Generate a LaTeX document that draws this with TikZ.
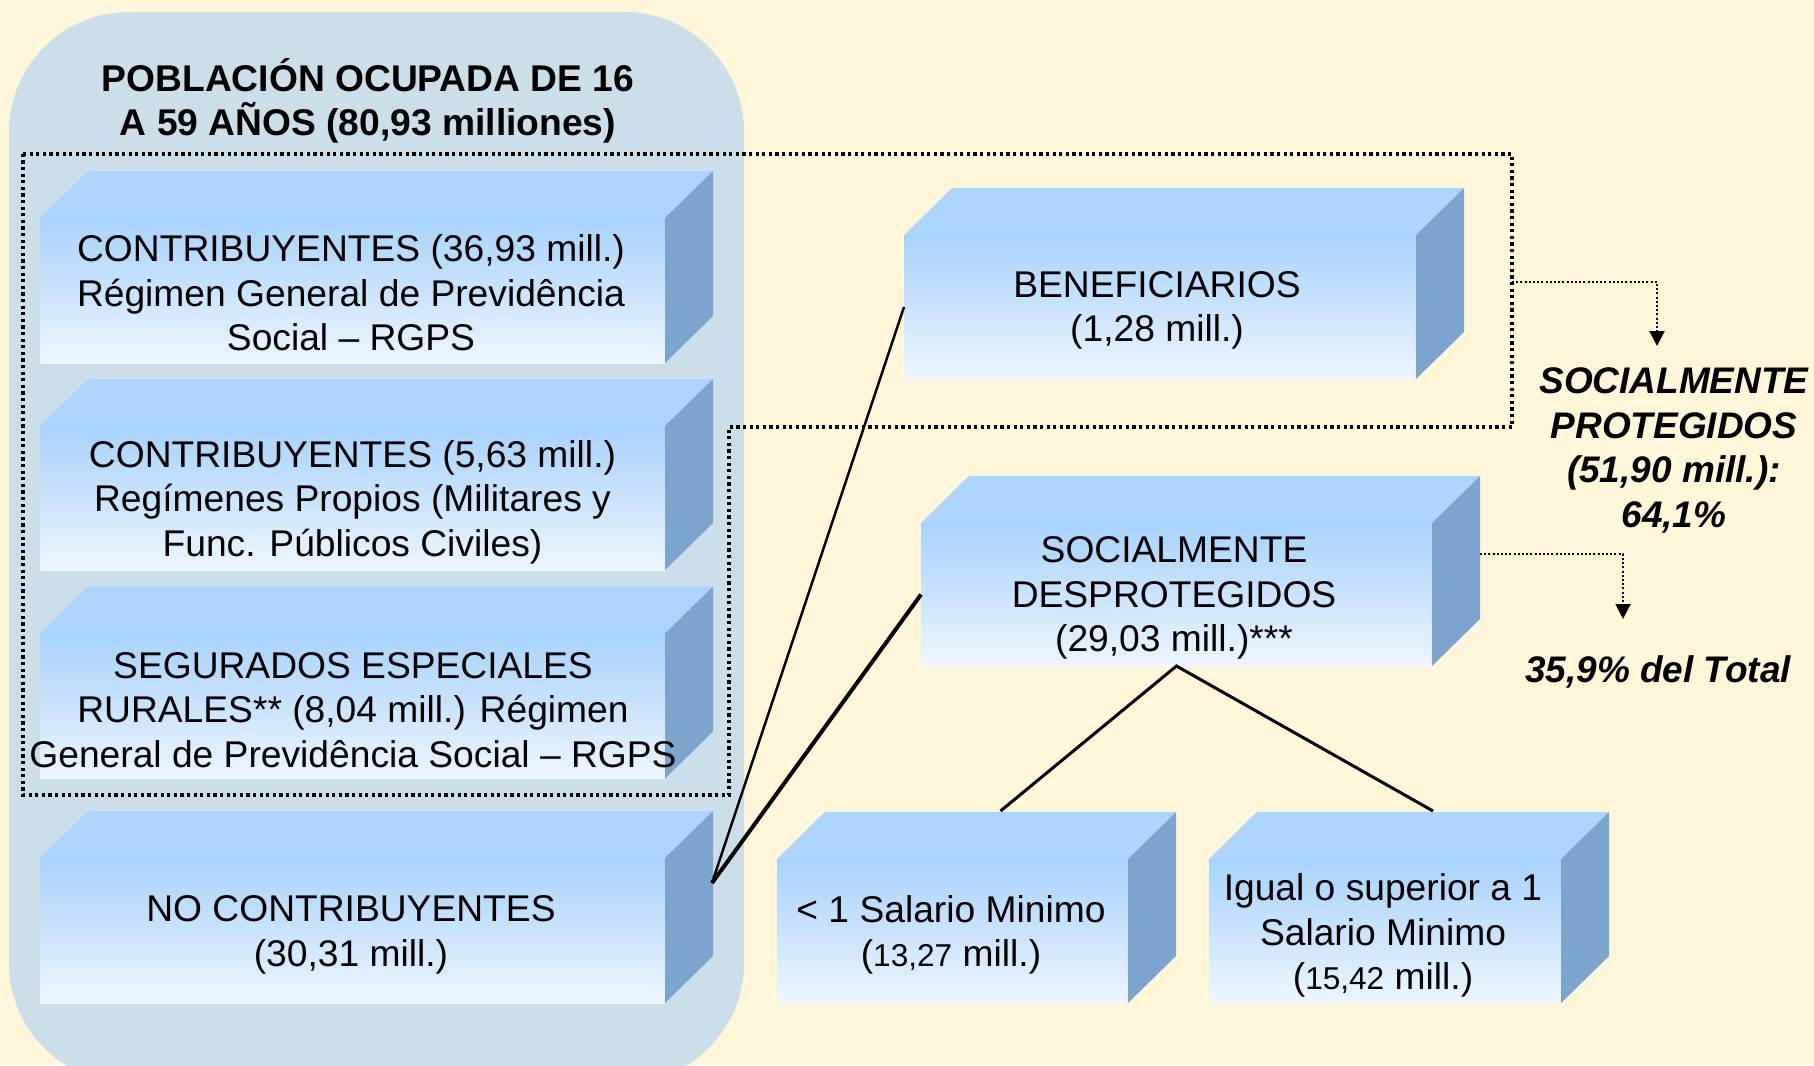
\documentclass[tikz,border=0pt]{standalone}
\usepackage{fontspec}
\setmainfont{Liberation Sans}
\usetikzlibrary{calc,arrows.meta}
\definecolor{bgcream}{HTML}{FFF5D8}
\definecolor{panelblue}{HTML}{CCDEEA}
\definecolor{facetop}{HTML}{A8D3FC}
\definecolor{facemid}{HTML}{CAE3FD}
\definecolor{facebot}{HTML}{EEF6FF}
\definecolor{topface}{HTML}{ABD5FC}
\definecolor{sideface}{HTML}{7BA5CD}
\tikzset{
  front/.style={inner sep=0pt, outer sep=0pt, draw=none, top color=facetop, bottom color=facebot, middle color=facemid},
  boxtext/.style={inner sep=0pt, align=center, font=\fontsize{18.6}{22.25}\selectfont},
  titletext/.style={inner sep=0pt, align=center, font=\fontsize{18.6}{22}\selectfont\bfseries},
  sidetext/.style={inner sep=0pt, align=center, font=\fontsize{18.5}{22.3}\selectfont\bfseries\itshape},
  thinline/.style={line width=1.2pt},
  thickline/.style={line width=2pt},
  treeline/.style={line width=1.5pt},
  dotframe/.style={line width=1.6pt, dash pattern=on 1.6pt off 1.7pt},
  dotarrow/.style={line width=1pt, dash pattern=on 1pt off 1.1pt, -{Triangle[width=7.5pt,length=7.5pt]}, shorten >=0pt},
}
\newcommand\cuboid[5]{%
  \node[front, minimum width=#4*0.5pt, minimum height=#5*0.5pt] (#1) at (#2,#3) {};
  \fill[topface] (#1.north west) -- ++(48,-47) -- ($(#1.north east)+(48,-47)$) -- (#1.north east) -- cycle;
  \fill[sideface] (#1.north east) -- ++(48,-47) -- ($(#1.south east)+(48,-47)$) -- (#1.south east) -- cycle;
}
\begin{document}
\begin{tikzpicture}[x=0.5pt,y=-0.5pt]
\useasboundingbox (0,0) rectangle (1814,1065);
\fill[bgcream] (0,0) rectangle (1814,1065);
\fill[panelblue, rounded corners=60pt] (9,12) rectangle (744,1083);

\node[titletext] (title) at (368,100.5) {POBLACIÓN OCUPADA DE 16\\A 59 AÑOS (80,93 milliones)};

\cuboid{c1}{352.5}{290.5}{625}{145}
\cuboid{c2}{352.5}{498}{625}{144}
\cuboid{c3}{352.5}{706}{625}{145}
\cuboid{noc}{352.5}{930.5}{625}{145}
\cuboid{ben}{1160}{307}{512}{144}
\cuboid{des}{1176.5}{594.5}{511}{143}
\cuboid{sal1}{952.5}{931}{351}{144}
\cuboid{sal2}{1385}{931}{352}{144}

\node[boxtext] (t1) at (351,293) {CONTRIBUYENTES (36,93 mill.)\\Régimen General de Previdência\\Social – RGPS};
\node[boxtext] (t2) at (352.5,502) {CONTRIBUYENTES (5,63 mill.)\\Regímenes Propios (Militares y\\Func. Públicos Civiles)};
\node[boxtext] (t3) at (353,710) {SEGURADOS ESPECIALES\\RURALES** (8,04 mill.) Régimen\\General de Previdência Social – RGPS};
\node[boxtext] (t4) at (351,935) {NO CONTRIBUYENTES\\(30,31 mill.)};
\node[boxtext] (tben) at (1157,310.5) {BENEFICIARIOS\\(1,28 mill.)};
\node[boxtext] (tdes) at (1174,598) {SOCIALMENTE\\DESPROTEGIDOS\\(29,03 mill.)***};
\node[boxtext] (tsal1) at (951,935) {< 1 Salario Minimo\\({\fontsize{15.8}{16}\selectfont 13,27} mill.)};
\node[boxtext] (tsal2) at (1383,935.5) {Igual o superior a 1\\Salario Minimo\\({\fontsize{15.8}{16}\selectfont 15,42} mill.)};

\node[sidetext] (prot) at (1674,450.5) {SOCIALMENTE\\PROTEGIDOS\\(51,90 mill.):\\64,1\%};
\node[sidetext] (tot) at (1658,671.5) {35,9\% del Total};

% dotted frame
\coordinate (fa) at (23,154);
\coordinate (fb) at (1512,154);
\coordinate (fc) at (1512,427);
\coordinate (fd) at (729,427);
\coordinate (fe) at (729,795);
\coordinate (ff) at (23,795);
\draw[dotframe] (fa) -- (fb) -- (fc) -- (fd) -- (fe) -- (ff) -- cycle;

% dotted arrows
\coordinate (fr) at (1512,282);
\coordinate (arr1) at (1657,346);
\draw[dotarrow] (fr) -| (arr1);
\coordinate (dsr) at ($(des.east)+(48,-40.5)$);
\coordinate (arr2) at (1623,619);
\draw[dotarrow] (dsr) -| (arr2);

% connectors
\coordinate (nocp) at ($(noc.north east)+(47,25)$);
\draw[thinline] (nocp) -- (ben.west);
\draw[thickline] (nocp) -- (des.west);
\coordinate (sal1top) at ($(sal1.north)+(48,-48)$);
\coordinate (sal2top) at ($(sal2.north)+(48,-48)$);
\draw[treeline] (sal1top) -- (des.south) -- (sal2top);
\end{tikzpicture}
\end{document}
